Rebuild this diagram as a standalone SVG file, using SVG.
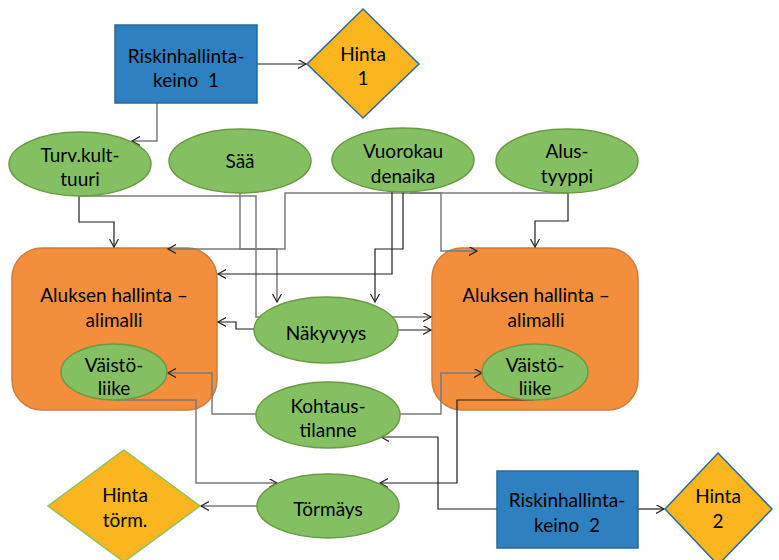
<svg xmlns="http://www.w3.org/2000/svg" width="779" height="560" viewBox="0 0 779 560">
<defs>
<marker id="arr" markerWidth="10" markerHeight="10" refX="8" refY="4.5" orient="auto" markerUnits="userSpaceOnUse">
<path d="M0,0 L8,4.5 L0,9" fill="none" stroke="#222" stroke-width="1.2"/>
</marker>
<style>
text{font-family:Lato,"Liberation Sans",sans-serif;font-size:19px;fill:#000;text-anchor:middle;white-space:pre}
.rect{fill:#2e80c1;stroke:#28679c;stroke-width:1.5}
.dia{fill:#fbb51f;stroke:#2a6a9e;stroke-width:1.5}
.diag{fill:#fbb51f;stroke:#8dc35a;stroke-width:1.5}
.ell{fill:#84c062;stroke:#6a9a41;stroke-width:1.5}
.box{fill:#f38e3c;stroke:#cd7d3e;stroke-width:1.5}
.c{fill:none;stroke:#1e1e1e;stroke-width:1.2;marker-end:url(#arr)}
.g{fill:none;stroke:#7b7b7b;stroke-width:1.5;marker-end:url(#arr)}
</style>
</defs>
<rect width="779" height="560" fill="#fff"/>

<g id="box-left"><rect class="box" x="12" y="248" width="205" height="162" rx="30"/><text x="114" y="302">Aluksen hallinta –</text><text x="114" y="327">alimalli</text></g>
<g id="box-right"><rect class="box" x="432" y="248" width="206" height="162" rx="30"/><text x="536" y="302">Aluksen hallinta –</text><text x="536" y="327">alimalli</text></g>

<g id="connectors">
<path class="c" d="M257,64 H306"/>
<path class="g" d="M157,103 V141 H132"/>
<path class="c" d="M79,196 V222 H114 V247"/>
<path class="g" d="M79,196 H256 V317 H431"/>
<path class="g" d="M240,193 V249 H277 V302"/>
<path class="g" d="M568,193 H285 V249 H168"/>
<path class="c" d="M568,193 V221 H535 V247"/>
<path class="g" d="M410,193 H441 V251 H477"/>
<path class="c" d="M392,192 V274 H218"/>
<path class="c" d="M403,192 V249 H375 V302"/>
<path class="c" d="M255,329 H236 V322 H218"/>
<path class="c" d="M397,330 H431"/>
<path class="g" d="M257,414 H212 V373 H168"/>
<path class="g" d="M400,414 H441 V373 H482"/>
<path class="g" d="M115,400 H196 V483 H277"/>
<path class="c" d="M535,400 H457 V483 H380"/>
<path class="c" d="M497,509 H438 V437 H381"/>
<path class="g" d="M257,506 H201"/>
<path class="c" d="M638,509 H664"/>
</g>

<g id="rk1"><rect class="rect" x="115" y="25" width="142" height="78"/><text x="186" y="63">Riskinhallinta-</text><text x="186" y="87">keino  1</text></g>
<g id="hinta1"><polygon class="dia" points="363,9 419,64 363,118 307,64"/><text x="363" y="61">Hinta</text><text x="363" y="85">1</text></g>
<g id="turv"><ellipse class="ell" cx="80" cy="164" rx="71" ry="32"/><text x="80" y="162">Turv.kult-</text><text x="80" y="186">tuuri</text></g>
<g id="saa"><ellipse class="ell" cx="240" cy="161" rx="71" ry="32"/><text x="240" y="168">Sää</text></g>
<g id="vuoro"><ellipse class="ell" cx="403" cy="160" rx="71" ry="32"/><text x="403" y="158">Vuorokau</text><text x="403" y="183">denaika</text></g>
<g id="alus"><ellipse class="ell" cx="567" cy="161" rx="71" ry="32"/><text x="567" y="158">Alus-</text><text x="567" y="183">tyyppi</text></g>
<g id="vaisto-left"><ellipse class="ell" cx="114" cy="372" rx="53" ry="28"/><text x="114" y="372">Väistö-</text><text x="114" y="395">liike</text></g>
<g id="vaisto-right"><ellipse class="ell" cx="535" cy="372" rx="53" ry="28"/><text x="535" y="372">Väistö-</text><text x="535" y="395">liike</text></g>
<g id="nakyvyys"><ellipse class="ell" cx="326" cy="330" rx="72" ry="33"/><text x="326" y="340">Näkyvyys</text></g>
<g id="kohtaus"><ellipse class="ell" cx="328" cy="415" rx="72" ry="33"/><text x="328" y="413">Kohtaus-</text><text x="328" y="437">tilanne</text></g>
<g id="tormays"><ellipse class="ell" cx="328" cy="506" rx="71" ry="32"/><text x="328" y="516">Törmäys</text></g>
<g id="hinta-torm"><polygon class="diag" points="124,450 200,506 124,562 48,506"/><text x="125" y="502">Hinta</text><text x="125" y="527">törm.</text></g>
<g id="rk2"><rect class="rect" x="497" y="471" width="141" height="77"/><text x="567" y="507">Riskinhallinta-</text><text x="567" y="532">keino  2</text></g>
<g id="hinta2"><polygon class="dia" points="718,453 772,509 718,565 665,509"/><text x="718" y="503">Hinta</text><text x="718" y="528">2</text></g>
</svg>
